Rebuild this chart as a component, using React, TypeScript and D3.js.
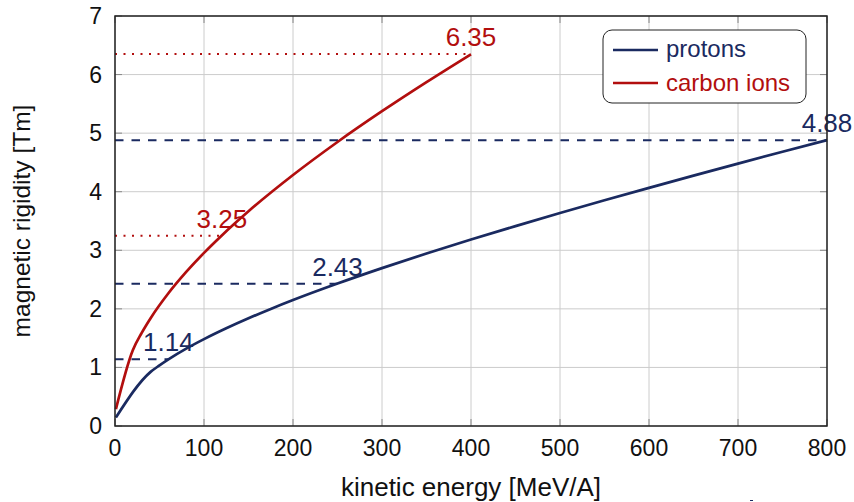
import React from 'react';
import * as d3 from 'd3';

// kinetic energy [MeV/A] and magnetic rigidity [Tm]
const protonEnergy = [1, 40, 50, 60, 80, 100, 125, 150, 175, 200, 250, 300, 350, 400, 450, 500, 550, 600, 650, 700, 750, 800];
const protonRigidity = [0.145, 0.924, 1.035, 1.137, 1.32, 1.483, 1.668, 1.839, 1.999, 2.15, 2.432, 2.695, 2.945, 3.183, 3.413, 3.636, 3.853, 4.066, 4.275, 4.48, 4.682, 4.881];

const carbonEnergy = [1, 20, 30, 40, 60, 80, 100, 120, 150, 200, 250, 300, 350, 400];
const carbonRigidity = [0.288, 1.295, 1.59, 1.841, 2.266, 2.63, 2.956, 3.254, 3.666, 4.285, 4.849, 5.374, 5.871, 6.347];

const protonMarks = [
  { energy: 60, value: 1.14, label: '1.14' },
  { energy: 250, value: 2.43, label: '2.43' },
  { energy: 800, value: 4.88, label: '4.88' },
];
const carbonMarks = [
  { energy: 120, value: 3.25, label: '3.25' },
  { energy: 400, value: 6.35, label: '6.35' },
];

const xTicks = [0, 100, 200, 300, 400, 500, 600, 700, 800];
const yTicks = [0, 1, 2, 3, 4, 5, 6, 7];

const BLUE = '#1a2a60';
const RED = '#b20e0e';
const FONT = '"Liberation Sans", Arial, sans-serif';

const W = 854;
const H = 502;
const margin = { left: 115, right: 27, top: 16, bottom: 76 };

const App = () => {
  const x = d3.scaleLinear().domain([0, 800]).range([margin.left, W - margin.right]);
  const y = d3.scaleLinear().domain([0, 7]).range([H - margin.bottom, margin.top]);

  const line = d3.line<[number, number]>()
    .x(d => x(d[0]))
    .y(d => y(d[1]))
    .curve(d3.curveMonotoneX);

  const protonPath = line(protonEnergy.map((e, i) => [e, protonRigidity[i]]));
  const carbonPath = line(carbonEnergy.map((e, i) => [e, carbonRigidity[i]]));

  const [x0, x1] = x.range();
  const [y0, y1] = y.range();

  return (
    <svg width={W} height={H} style={{ position: 'absolute', left: 0, top: 0, background: '#fff' }} fontFamily={FONT}>
      {/* grid */}
      {xTicks.map(t => (
        <line key={'gx' + t} x1={x(t)} x2={x(t)} y1={y1} y2={y0} stroke="#cccccc" strokeWidth={1} />
      ))}
      {yTicks.map(t => (
        <line key={'gy' + t} x1={x0} x2={x1} y1={y(t)} y2={y(t)} stroke="#cccccc" strokeWidth={1} />
      ))}
      {/* inner ticks */}
      {xTicks.map(t => (
        <g key={'tx' + t} stroke="#888" strokeWidth={1}>
          <line x1={x(t)} x2={x(t)} y1={y0} y2={y0 - 7} />
          <line x1={x(t)} x2={x(t)} y1={y1} y2={y1 + 7} />
        </g>
      ))}
      {yTicks.map(t => (
        <g key={'ty' + t} stroke="#888" strokeWidth={1}>
          <line x1={x0} x2={x0 + 7} y1={y(t)} y2={y(t)} />
          <line x1={x1} x2={x1 - 7} y1={y(t)} y2={y(t)} />
        </g>
      ))}

      {/* reference lines */}
      {protonMarks.map(m => (
        <line key={'pd' + m.label} x1={x0} x2={x(m.energy)} y1={y(m.value)} y2={y(m.value)}
          stroke={BLUE} strokeWidth={2} strokeDasharray="8.5 8" />
      ))}
      {carbonMarks.map(m => (
        <line key={'cd' + m.label} x1={x0} x2={x(m.energy)} y1={y(m.value)} y2={y(m.value)}
          stroke={RED} strokeWidth={2} strokeDasharray="2 6.5" />
      ))}

      {/* curves */}
      <path d={protonPath || ''} fill="none" stroke={BLUE} strokeWidth={2.7} strokeLinejoin="round" />
      <path d={carbonPath || ''} fill="none" stroke={RED} strokeWidth={2.7} strokeLinejoin="round" />

      {/* value labels */}
      {protonMarks.map(m => (
        <text key={'pl' + m.label} x={x(m.energy)} y={y(m.value) - 8} textAnchor="middle" fontSize={26} fill={BLUE}>{m.label}</text>
      ))}
      {carbonMarks.map(m => (
        <text key={'cl' + m.label} x={x(m.energy)} y={y(m.value) - 8} textAnchor="middle" fontSize={26} fill={RED}>{m.label}</text>
      ))}

      {/* axis box */}
      <rect x={x0} y={y1} width={x1 - x0} height={y0 - y1} fill="none" stroke="#222" strokeWidth={1.5} />

      {/* tick labels */}
      {xTicks.map(t => (
        <text key={'lx' + t} x={x(t)} y={y0 + 30} textAnchor="middle" fontSize={23} fill="#111">{t}</text>
      ))}
      {yTicks.map(t => (
        <text key={'ly' + t} x={x0 - 13} y={y(t)} textAnchor="end" dominantBaseline="central" fontSize={23} fill="#111">{t}</text>
      ))}

      {/* axis titles */}
      <text x={(x0 + x1) / 2} y={496} textAnchor="middle" fontSize={26} fill="#111">kinetic energy [MeV/A]</text>
      <text transform={`translate(30,${(y0 + y1) / 2}) rotate(-90)`} textAnchor="middle" fontSize={24.5} fill="#111">magnetic rigidity [Tm]</text>

      {/* legend */}
      <g>
        <rect x={603} y={30} width={203} height={73} rx={9} fill="#fff" stroke="#222" strokeWidth={1} />
        <line x1={613} x2={658} y1={50} y2={50} stroke={BLUE} strokeWidth={2.7} />
        <text x={666} y={57} fontSize={24} fill={BLUE}>protons</text>
        <line x1={613} x2={658} y1={83} y2={83} stroke={RED} strokeWidth={2.7} />
        <text x={666} y={91} fontSize={24} fill={RED}>carbon ions</text>
      </g>

      {/* small stray mark below the axis */}
      <line x1={750} x2={753} y1={500.5} y2={500.5} stroke={BLUE} strokeWidth={1} />
    </svg>
  );
};

export default App;
